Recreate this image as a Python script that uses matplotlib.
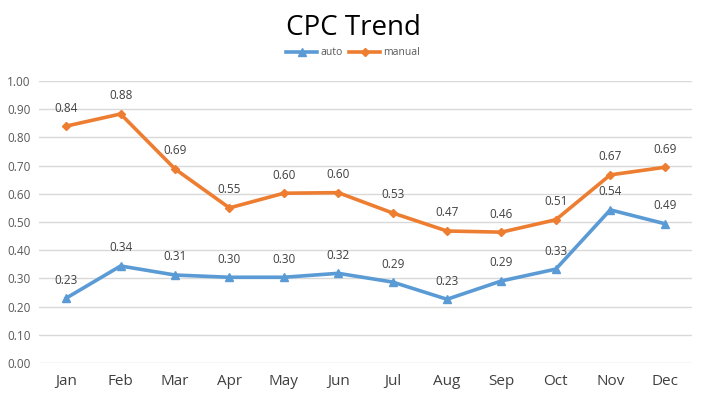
import matplotlib.pyplot as plt

plt.rcParams['font.family'] = ['Open Sans', 'DejaVu Sans']

# Data
months = ["Jan", "Feb", "Mar", "Apr", "May", "Jun",
          "Jul", "Aug", "Sep", "Oct", "Nov", "Dec"]
auto = [0.230, 0.344, 0.312, 0.304, 0.304, 0.318,
        0.287, 0.226, 0.291, 0.333, 0.543, 0.494]
manual = [0.840, 0.883, 0.688, 0.550, 0.602, 0.604,
          0.532, 0.468, 0.464, 0.508, 0.667, 0.694]

yticks = [0.0, 0.1, 0.2, 0.3, 0.4, 0.5, 0.6, 0.7, 0.8, 0.9, 1.0]

fig = plt.figure(figsize=(7.06, 3.95), dpi=100)
ax = fig.add_axes([0.0552, 0.081, 0.9248, 0.714])

x = range(len(months))

ax.plot(x, auto, color="#5B9BD5", linewidth=2.6,
        marker="^", markersize=6, label="auto", zorder=3)
ax.plot(x, manual, color="#ED7D31", linewidth=2.6,
        marker="D", markersize=4, label="manual", zorder=3)

# Data labels
for xi, v in zip(x, auto):
    ax.annotate(f"{v:.2f}", (xi, v), xytext=(0, 13),
                textcoords="offset points", ha="center", va="center",
                fontsize=8.5, color="#404040")
for xi, v in zip(x, manual):
    ax.annotate(f"{v:.2f}", (xi, v), xytext=(0, 13),
                textcoords="offset points", ha="center", va="center",
                fontsize=8.5, color="#404040")

ax.set_xlim(-0.5, len(months) - 0.5)
ax.set_ylim(0, 1.0)
ax.set_xticks(list(x))
ax.set_xticklabels(months, fontsize=11, color="#404040")
ax.set_yticks(yticks)
ax.set_yticklabels([f"{t:.2f}" for t in yticks], fontsize=8.5, color="#595959")

ax.grid(axis="y", color="#D9D9D9", linewidth=1)
ax.set_axisbelow(True)
for s in ax.spines.values():
    s.set_visible(False)
ax.tick_params(axis="both", length=0)
ax.tick_params(axis="x", pad=8)
ax.tick_params(axis="y", pad=6)

fig.text(0.5, 0.93, "CPC Trend", ha="center", va="center",
         fontsize=20, color="#000000")

fig.legend(loc="center", bbox_to_anchor=(0.5, 0.866), ncol=2,
           frameon=False, fontsize=7.5, handlelength=3,
           columnspacing=0.6, handletextpad=0.3,
           labelcolor="#595959")

fig.savefig("out.png", dpi=100)
